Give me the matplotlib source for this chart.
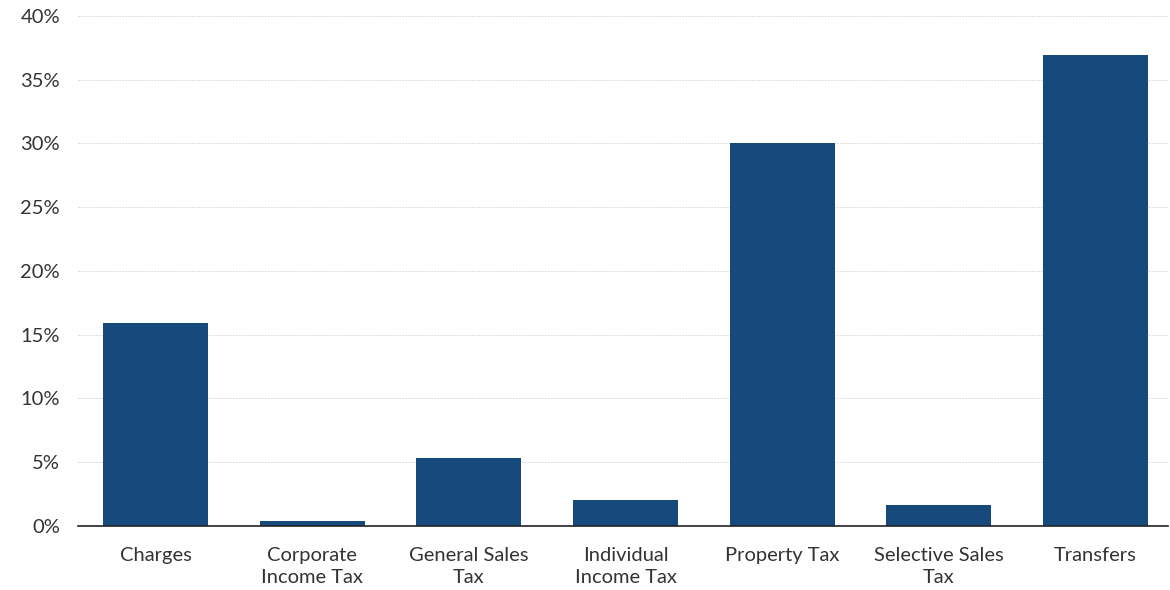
import matplotlib.pyplot as plt
from matplotlib.ticker import FuncFormatter

# Категории и значения (доля, %)
categories = ['Charges', 'Corporate\nIncome Tax', 'General Sales\nTax', 'Individual\nIncome Tax',
              'Property Tax', 'Selective Sales\nTax', 'Transfers']
values = [15.9, 0.4, 5.3, 2.0, 30.0, 1.65, 36.9]
y_ticks = [0, 5, 10, 15, 20, 25, 30, 35, 40]

plt.rcParams['font.family'] = ['Lato', 'DejaVu Sans']

fig = plt.figure(figsize=(11.7, 5.9), dpi=100)
ax = fig.add_axes([0.0667, 0.1085, 0.9313, 0.8645])

x = range(len(categories))
ax.bar(x, values, width=0.67, color='#174A7C', zorder=3)

ax.set_xlim(-0.494, 6.46)
ax.set_ylim(0, 40)
ax.set_yticks(y_ticks)
ax.yaxis.set_major_formatter(FuncFormatter(lambda v, p: f'{v:.0f}%'))
ax.set_xticks(list(x))
ax.set_xticklabels(categories, fontsize=14.5, color='#333333', linespacing=1.4)
ax.tick_params(axis='y', labelsize=14.5, labelcolor='#333333', length=0, pad=13)
ax.tick_params(axis='x', length=0, pad=15)

# Сетка
ax.grid(axis='y', color='#d0d0d0', linestyle=(0, (2, 1.5)), linewidth=0.6, zorder=0)

for side in ['top', 'right', 'left']:
    ax.spines[side].set_visible(False)
ax.spines['bottom'].set_color('#222222')
ax.spines['bottom'].set_linewidth(1.2)
ax.spines['bottom'].set_zorder(4)

fig.savefig('out.png', dpi=100)
